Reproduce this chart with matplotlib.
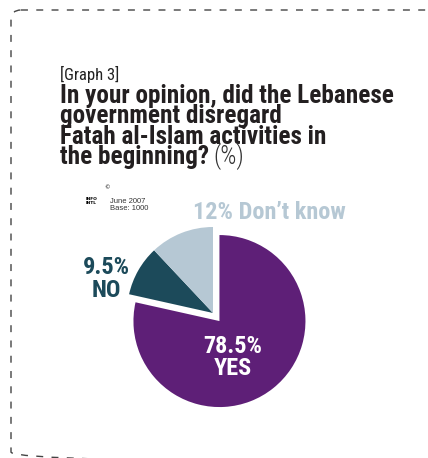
import matplotlib
matplotlib.use('Agg')
import matplotlib.pyplot as plt
from matplotlib.patches import FancyBboxPatch

# ── data ─────────────────────────────────────────────────────────────────────
labels  = ['YES', 'NO', "Don't know"]
values  = [78.5, 9.5, 12]
colours = ['#5e1f77', '#1c4a5a', '#b6c8d4']
explode = [0.12, 0, 0]

title_lines = ['In your opinion, did the Lebanese',
               'government disregard',
               'Fatah al-Islam activities in',
               'the beginning?']

W, H = 428, 458
COND = ['Roboto Condensed', 'DejaVu Sans']

fig = plt.figure(figsize=(W / 100, H / 100), dpi=100, facecolor='white')

def fx(px):
    return px / W

def fy(py):
    return 1 - py / H

def fit_size(text, target_px, start=16, **kw):
    # font size that makes `text` target_px wide
    p = fig.text(0, 0, text, fontsize=start, **kw)
    fig.canvas.draw()
    w = p.get_window_extent().width
    p.remove()
    return start * target_px / w

# ── dashed rounded frame (pixel coords, y down) ──────────────────────────────
bg = fig.add_axes([0, 0, 1, 1])
bg.set_xlim(0, W)
bg.set_ylim(H, 0)
bg.axis('off')
bg.add_patch(FancyBboxPatch((11, 10), 428, 452,
                            boxstyle='round,pad=0,rounding_size=10',
                            fill=False, edgecolor='#444444', lw=1.0,
                            ls=(0, (5, 6)), clip_on=False))

# ── titles ───────────────────────────────────────────────────────────────────
fig.text(fx(60), fy(80), '[Graph 3]', fontsize=12, family=COND,
         color='#222222', va='baseline')

size = fit_size(title_lines[0], 332, fontweight='bold', family=COND)
baselines = [102.5, 123, 143.5, 164]
for line, yb in zip(title_lines, baselines):
    t = fig.text(fx(60), fy(yb), line, fontsize=size, fontweight='bold',
                 family=COND, color='#231f20', va='baseline')

fig.canvas.draw()
bb = t.get_window_extent()
fig.text(bb.x1 / W + fx(4), fy(164), '(%)', fontsize=size, family=COND,
         fontweight='light', color='#333333', va='baseline')

# ── logo / source note ───────────────────────────────────────────────────────
fig.text(fx(86), fy(204), 'INFO\nINTL', fontsize=3.2, fontweight='bold',
         color='black', va='baseline', linespacing=0.9)
fig.text(fx(104), fy(189), '©', fontsize=4, color='black', va='baseline')
fig.text(fx(110), fy(210), 'June 2007\nBase: 1000', fontsize=5.5,
         family=['Liberation Sans', 'DejaVu Sans'],
         color='#333333', va='baseline', linespacing=1.0)

# ── pie ──────────────────────────────────────────────────────────────────────
R, LIM = 86, 1.3
side = 2 * LIM * R
cx, cy = 213, 313
ax = fig.add_axes([fx(cx - side / 2), (H - cy - side / 2) / H, side / W, side / H])
ax.pie(values, colors=colours, explode=explode, startangle=90,
       counterclock=False, radius=1.0)
ax.set_xlim(-LIM, LIM)
ax.set_ylim(-LIM, LIM)
ax.set_aspect('equal')
ax.axis('off')

# ── slice labels ─────────────────────────────────────────────────────────────
dk_text = f'{values[2]:g}% Don\u2019t know'
lsize = (fit_size(dk_text, 147, fontweight='bold', family=COND) + size) / 2
lab = dict(fontsize=lsize, fontweight='bold', family=COND, va='baseline')
fig.text(fx(193), fy(219), dk_text, color=colours[2], **lab)
fig.text(fx(106), fy(274), f'{values[1]:g}%', color=colours[1], ha='center', **lab)
fig.text(fx(106), fy(297), labels[1], color=colours[1], ha='center', **lab)
fig.text(fx(232.5), fy(353), f'{values[0]:g}%', color='white', ha='center', **lab)
fig.text(fx(232.5), fy(375), labels[0], color='white', ha='center', **lab)

plt.savefig('out.png', dpi=100, facecolor='white')
plt.close()
